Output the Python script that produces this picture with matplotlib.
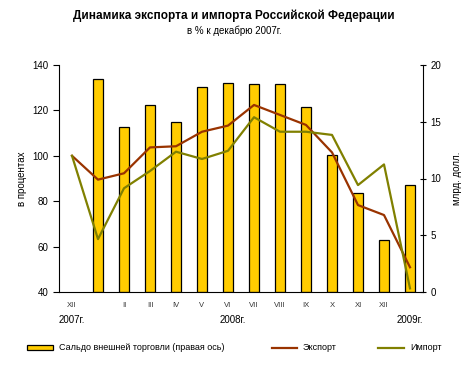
import matplotlib
matplotlib.use("Agg")
import matplotlib.pyplot as plt
import numpy as np
from matplotlib.patches import Rectangle
from matplotlib.lines import Line2D

plt.rcParams['font.family'] = ['Liberation Sans', 'DejaVu Sans']

months = ["XII", "", "II", "III", "IV", "V", "VI", "VII", "VIII", "IX", "X", "XI", "XII", ""]
years = ["2007г.", "2008г.", "2009г."]
year_pos = [0, 6.2, 13]
balance = [np.nan, 18.8, 14.5, 16.5, 14.95, 18.1, 18.4, 18.3, 18.3, 16.3, 12.1, 8.7, 4.55, 9.4]
export = [100, 89.5, 92.3, 103.7, 104.2, 110.6, 113.3, 122.4, 118, 113.6, 101.5, 78.3, 73.9, 50.9]
imports = [100, 63.3, 85.7, 93.3, 101.8, 98.6, 102.2, 117, 110.6, 110.6, 109.2, 87.1, 96.2, 41.6]

W, H = 468, 366
x = np.arange(len(months))
fig = plt.figure(figsize=(W/100, H/100), dpi=100)
pos = [59/W, (H-292)/H, (423-59)/W, (292-65)/H]

axb = fig.add_axes(pos)
axb.bar(x, balance, width=0.38, color="#FFCC00", edgecolor="black", linewidth=0.9)
axb.set_ylim(0, 20)
axb.set_xlim(-0.5, 13.5)
axb.yaxis.tick_right()
axb.yaxis.set_label_position("right")
axb.set_yticks([0, 5, 10, 15, 20])
axb.tick_params(axis='y', direction='inout', length=5, labelsize=7, pad=3)
axb.set_ylabel("млрд. долл.", fontsize=7, rotation=90, labelpad=8)
for s in ["top", "left", "bottom"]:
    axb.spines[s].set_visible(False)
axb.set_xticks([])

ax = fig.add_axes(pos)
ax.patch.set_visible(False)
ax.plot(x, export, color="#993300", linewidth=1.6)
ax.plot(x, imports, color="#808000", linewidth=1.6)
ax.set_ylim(40, 140)
ax.set_xlim(-0.5, 13.5)
ax.set_yticks([40, 60, 80, 100, 120, 140])
ax.tick_params(axis='y', direction='out', length=4, labelsize=7)
ax.set_ylabel("в процентах", fontsize=7, labelpad=4)
ax.set_xticks(x)
ax.set_xticklabels(months, fontsize=5.5, color="#333333")
ax.tick_params(axis='x', length=0, pad=7)
for s in ["top", "right"]:
    ax.spines[s].set_visible(False)
for yl, yp in zip(years, year_pos):
    ax.text(yp, -0.124, yl, transform=ax.get_xaxis_transform(), ha="center", va="center", fontsize=7)

fig.text(0.5, 1 - 16/H, "Динамика экспорта и импорта Российской Федерации", ha="center", va="center",
         fontsize=8.5, fontweight="bold")
fig.text(0.5, 1 - 31/H, "в % к декабрю 2007г.", ha="center", va="center", fontsize=7)

# legend drawn manually
ly = 1 - 347.5/H
fig.add_artist(Rectangle((27/W, ly - 2.5/H), 26/W, 5/H, transform=fig.transFigure,
                         facecolor="#FFCC00", edgecolor="black", linewidth=0.9))
fig.text(59/W, ly, "Сальдо внешней торговли (правая ось)", ha="left", va="center", fontsize=6.5)
fig.add_artist(Line2D([272/W, 297/W], [ly, ly], transform=fig.transFigure, color="#993300", linewidth=1.6))
fig.text(303/W, ly, "Экспорт", ha="left", va="center", fontsize=6.5)
fig.add_artist(Line2D([378/W, 404/W], [ly, ly], transform=fig.transFigure, color="#808000", linewidth=1.6))
fig.text(410/W, ly, "Импорт", ha="left", va="center", fontsize=6.5)

fig.savefig("out.png", dpi=100)
